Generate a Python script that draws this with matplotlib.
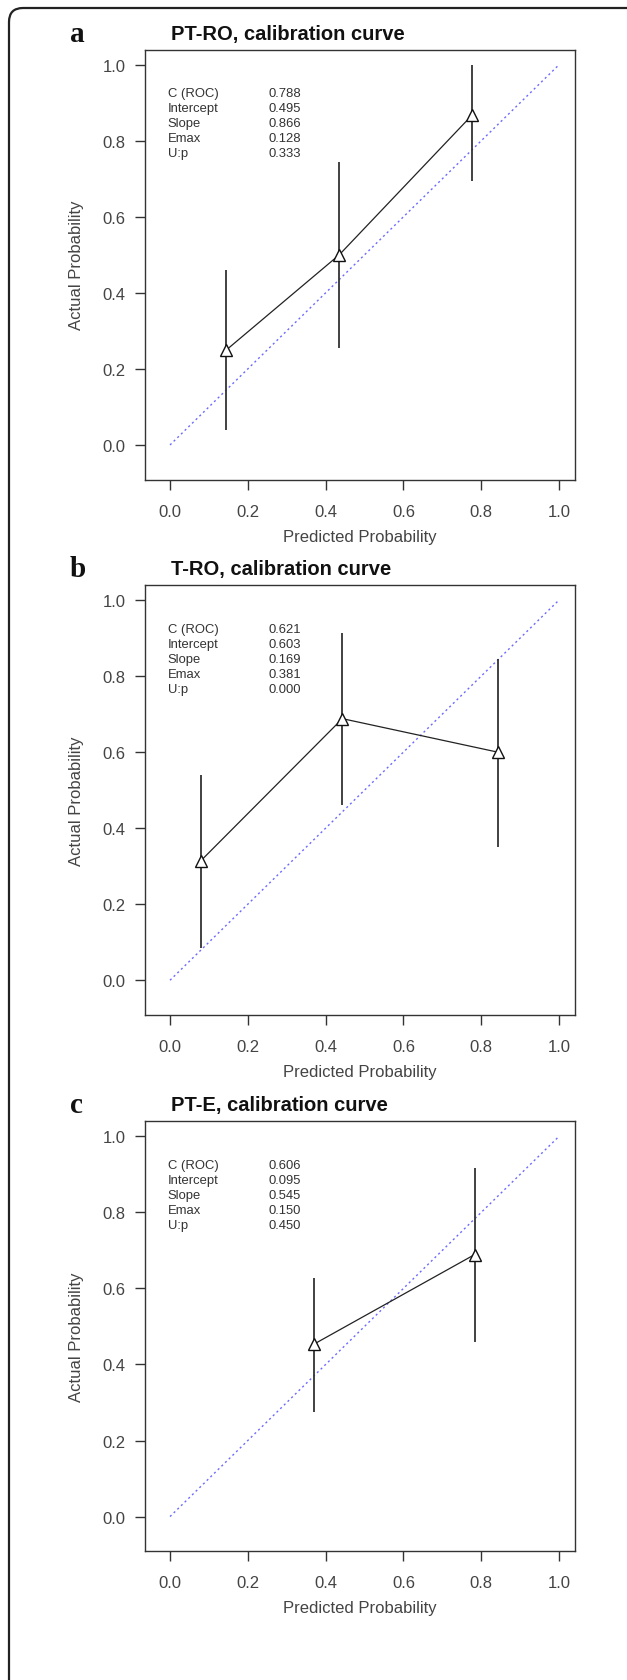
import numpy as np
import matplotlib.pyplot as plt
from matplotlib.patches import FancyBboxPatch
from matplotlib.transforms import IdentityTransform

plt.rcParams['font.family'] = ['Liberation Sans', 'DejaVu Sans']

# data
letters = ['a', 'b', 'c']
titles = ['PT-RO, calibration curve', 'T-RO, calibration curve', 'PT-E, calibration curve']

a_pred = [0.145, 0.435, 0.776]
a_obs = [0.25, 0.50, 0.867]
a_lo = [0.039, 0.254, 0.693]
a_hi = [0.461, 0.745, 1.0]

b_pred = [0.079, 0.443, 0.842]
b_obs = [0.314, 0.688, 0.60]
b_lo = [0.085, 0.46, 0.35]
b_hi = [0.539, 0.914, 0.844]

c_pred = [0.371, 0.783]
c_obs = [0.454, 0.689]
c_lo = [0.275, 0.46]
c_hi = [0.627, 0.916]

stat_names = ['C (ROC)', 'Intercept', 'Slope', 'Emax', 'U:p']
a_stats = ['0.788', '0.495', '0.866', '0.128', '0.333']
b_stats = ['0.621', '0.603', '0.169', '0.381', '0.000']
c_stats = ['0.606', '0.095', '0.545', '0.150', '0.450']

ideal = [0.0, 1.0]
ticks = [0.0, 0.2, 0.4, 0.6, 0.8, 1.0]

panels = [
    (a_pred, a_obs, a_lo, a_hi, a_stats),
    (b_pred, b_obs, b_lo, b_hi, b_stats),
    (c_pred, c_obs, c_lo, c_hi, c_stats),
]

W, H = 627, 1681
fig = plt.figure(figsize=(W / 100, H / 100), dpi=100)

# outer frame, only the top-left corner is inside the picture
frame = FancyBboxPatch((9, -30), 640, H - 9 + 30, boxstyle="round,pad=0,rounding_size=14",
                       transform=IdentityTransform(), fill=False, ec='#222222', lw=1.6)
fig.add_artist(frame)

box_left, box_size = 145, 430
box_tops = [50.7, 586, 1122.3]
txt = '#333333'

for k, (pred, obs, lo, hi, stats) in enumerate(panels):
    top = box_tops[k]
    ax = fig.add_axes([box_left / W, 1 - (top + box_size) / H, box_size / W, box_size / H])
    ax.set_xlim(-0.0643, 1.041)
    ax.set_ylim(-0.0914, 1.0395)

    ax.plot(ideal, ideal, ls=(0, (1.5, 2.2)), color='#6b6bff', lw=1.0)
    ax.vlines(pred, lo, hi, color='#333333', lw=1.3)
    ax.plot(pred, obs, color='#222222', lw=0.9, marker='^', ms=8.5, mfc='white',
            mec='#111111', mew=1.0)

    for i, name in enumerate(stat_names):
        y = 0.925 - i * 0.0395
        ax.text(-0.006, y, name, fontsize=9.4, color=txt, va='center', ha='left')
        ax.text(0.253, y, stats[i], fontsize=9.4, color=txt, va='center', ha='left')

    ax.set_xticks(ticks)
    ax.set_yticks(ticks)
    ax.set_xticklabels(['%.1f' % t for t in ticks])
    ax.set_yticklabels(['%.1f' % t for t in ticks])
    ax.tick_params(length=7.2, width=1.0, color='#333333', labelsize=12,
                   labelcolor='#444444')
    ax.tick_params(axis='x', pad=10)
    ax.tick_params(axis='y', pad=7)
    for s in ax.spines.values():
        s.set_color('#333333')
        s.set_linewidth(1.0)

    ax.text(0.5, -61 / box_size, 'Predicted Probability', transform=ax.transAxes,
            ha='center', va='baseline', fontsize=12, color='#444444')
    ax.text((76 - box_left) / box_size, 0.5, 'Actual Probability', transform=ax.transAxes,
            rotation=90, ha='center', va='center', fontsize=12, color='#444444')

    ax.text((171 - box_left) / box_size, 1 + 11 / box_size, titles[k], transform=ax.transAxes,
            ha='left', va='baseline', fontsize=14.5, fontweight='bold', color='#111111')
    ax.text((70 - box_left) / box_size, 1 + 9 / box_size, letters[k], transform=ax.transAxes,
            ha='left', va='baseline', fontsize=21, fontweight='bold', color='#111111',
            family=['Liberation Serif', 'DejaVu Serif'])

fig.savefig('out.png', dpi=100)
